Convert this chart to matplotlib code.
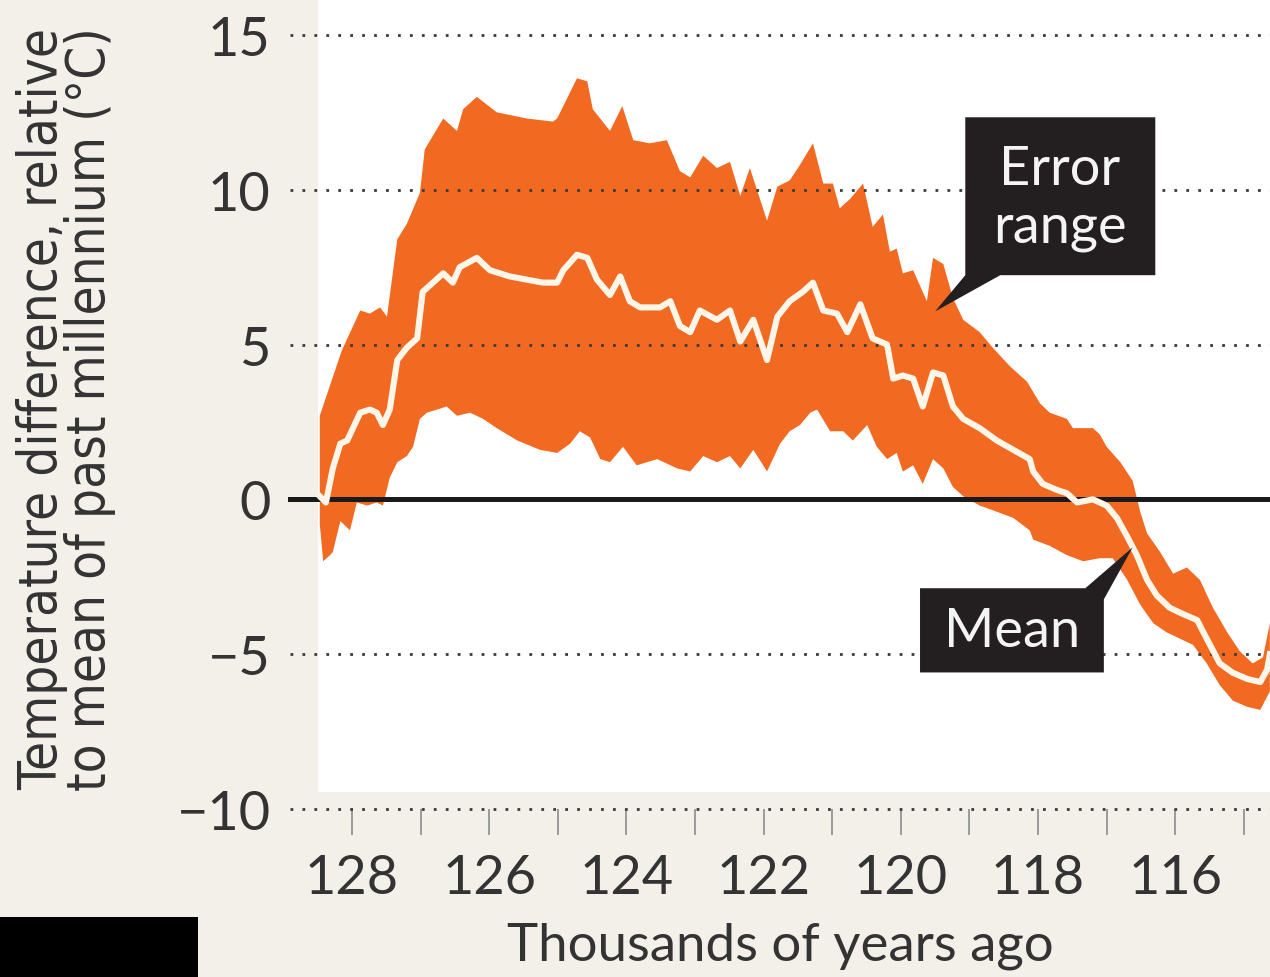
import numpy as np
import matplotlib
matplotlib.use("Agg")
import matplotlib.pyplot as plt
from matplotlib import font_manager
from matplotlib.patches import Rectangle, Polygon

# %% data (thousands of years ago, temperature anomaly in C)
upper_age = [128.47, 128.15, 127.88, 127.74, 127.59, 127.49, 127.34, 127.20, 127.01, 126.94,
             126.67, 126.47, 126.38, 126.18, 125.89, 125.45, 125.07, 125.01, 124.72, 124.57,
             124.49, 124.24, 124.06, 123.90, 123.66, 123.41, 123.22, 123.07, 122.88, 122.68,
             122.49, 122.34, 122.20, 121.95, 121.80, 121.62, 121.47, 121.28, 121.13, 120.99,
             120.89, 120.74, 120.55, 120.41, 120.26, 120.16, 120.06, 119.97, 119.82, 119.62,
             119.53, 119.38, 119.24, 119.09, 118.85, 118.66, 118.41, 118.16, 117.97, 117.83,
             117.58, 117.49, 117.20, 117.10, 117.00, 116.80, 116.62, 116.51, 116.41, 116.22,
             116.03, 115.83, 115.64, 115.45, 115.24, 115.06, 114.87, 114.72, 114.62]
upper_val = [2.7, 4.8, 6.1, 6.0, 6.2, 5.9, 8.4, 8.9, 9.9, 11.3,
             12.3, 11.9, 12.6, 13.0, 12.5, 12.3, 12.2, 12.3, 13.6, 13.5,
             12.6, 11.9, 12.7, 11.6, 11.5, 11.6, 10.6, 10.4, 11.1, 10.7,
             10.9, 9.8, 10.7, 9.0, 10.1, 10.3, 10.8, 11.5, 10.2, 10.2,
             9.4, 9.7, 10.2, 8.8, 9.2, 8.0, 8.1, 7.3, 7.4, 6.4,
             7.8, 7.6, 6.5, 5.8, 5.4, 4.9, 4.3, 3.8, 3.1, 2.8,
             2.6, 2.3, 2.3, 2.1, 1.7, 1.2, 0.6, -0.4, -1.1, -1.7,
             -2.4, -2.2, -2.6, -3.5, -4.3, -4.9, -5.3, -5.1, -4.0]

lower_age = [128.47, 128.42, 128.32, 128.28, 128.17, 128.03, 127.93, 127.78, 127.64, 127.55,
             127.45, 127.34, 127.20, 127.11, 127.01, 126.91, 126.76, 126.62, 126.47, 126.28,
             126.09, 125.89, 125.59, 125.26, 125.01, 124.82, 124.68, 124.53, 124.38, 124.24,
             124.05, 123.85, 123.55, 123.26, 123.07, 122.88, 122.68, 122.49, 122.34, 122.15,
             121.95, 121.76, 121.62, 121.47, 121.32, 121.22, 121.03, 120.84, 120.70, 120.49,
             120.35, 120.20, 120.06, 119.97, 119.82, 119.68, 119.53, 119.38, 119.24, 119.09,
             118.85, 118.60, 118.36, 118.12, 118.07, 117.83, 117.58, 117.34, 117.10, 116.91,
             116.70, 116.51, 116.32, 116.12, 115.93, 115.74, 115.54, 115.35, 115.16, 114.95,
             114.76, 114.62]
lower_val = [-0.8, -2.0, -1.8, -1.7, -0.7, -1.0, -0.1, -0.2, -0.1, -0.2,
             0.7, 1.2, 1.4, 1.7, 2.6, 2.8, 2.9, 3.0, 2.7, 2.8,
             2.6, 2.3, 1.9, 1.6, 1.5, 1.8, 2.2, 2.0, 1.3, 1.2,
             1.7, 1.1, 1.3, 1.0, 0.9, 1.4, 1.2, 1.4, 1.0, 1.6,
             0.9, 1.8, 2.2, 2.4, 2.8, 2.9, 2.2, 2.2, 1.9, 2.4,
             1.7, 1.3, 1.5, 0.9, 1.1, 0.5, 1.3, 1.0, 0.4, 0.1,
             -0.2, -0.4, -0.6, -1.0, -1.3, -1.5, -1.8, -2.0, -1.9, -1.9,
             -2.6, -3.4, -4.0, -4.3, -4.5, -4.7, -5.3, -6.0, -6.5, -6.7,
             -6.8, -6.2]

mean_age = [128.47, 128.38, 128.28, 128.17, 128.07, 127.88, 127.74, 127.64, 127.55, 127.45,
            127.34, 127.20, 127.05, 126.97, 126.82, 126.67, 126.53, 126.43, 126.18, 125.99,
            125.70, 125.22, 125.01, 124.92, 124.72, 124.57, 124.43, 124.24, 124.09, 123.95,
            123.80, 123.51, 123.36, 123.22, 123.07, 122.93, 122.68, 122.49, 122.34, 122.15,
            121.95, 121.80, 121.62, 121.43, 121.28, 121.13, 120.93, 120.78, 120.59, 120.41,
            120.20, 120.11, 119.97, 119.82, 119.68, 119.53, 119.38, 119.24, 119.09, 118.85,
            118.60, 118.36, 118.12, 118.07, 117.93, 117.72, 117.58, 117.43, 117.20, 117.00,
            116.85, 116.70, 116.56, 116.41, 116.27, 116.08, 115.89, 115.68, 115.54, 115.35,
            115.16, 114.95, 114.76, 114.66, 114.62]
mean_val = [0.1, -0.1, 1.0, 1.8, 1.9, 2.8, 2.9, 2.8, 2.4, 2.9,
            4.5, 4.9, 5.2, 6.7, 7.0, 7.3, 7.0, 7.5, 7.8, 7.4,
            7.2, 7.0, 7.0, 7.4, 7.9, 7.8, 7.1, 6.6, 7.2, 6.4,
            6.2, 6.2, 6.4, 5.6, 5.4, 6.1, 5.8, 6.1, 5.1, 5.8,
            4.5, 5.9, 6.4, 6.7, 7.0, 6.1, 6.0, 5.4, 6.3, 5.2,
            5.0, 3.9, 4.0, 3.9, 3.0, 4.1, 4.0, 3.0, 2.6, 2.3,
            1.9, 1.6, 1.3, 0.9, 0.5, 0.3, 0.2, -0.1, 0.0, -0.2,
            -0.6, -1.2, -1.8, -2.6, -3.1, -3.5, -3.7, -3.9, -4.5, -5.3,
            -5.6, -5.8, -5.9, -5.5, -5.0]

y_ticks = [15, 10, 5, 0, -5, -10]
y_ticklabels = ["15", "10", "5", "0", "\u22125", "\u221210"]
x_major = [128, 126, 124, 122, 120, 118, 116]
x_minor = [127, 125, 123, 121, 119, 117, 115]

# %% styling
bg = "#f2f0e9"
orange = "#f26a22"
dark = "#231f20"
txt = "#333333"

plt.rcParams["font.family"] = ["Lato", "DejaVu Sans"]

names = {f.name for f in font_manager.fontManager.ttflist}
if "Liberation Sans Narrow" in names:
    ylab_family, ylab_size, ylab_stretch = ["Liberation Sans Narrow", "DejaVu Sans"], 46, "normal"
else:
    ylab_family, ylab_size, ylab_stretch = ["DejaVu Sans"], 38, "condensed"

fig = plt.figure(figsize=(12.7, 9.78), dpi=100, facecolor=bg)
ax = fig.add_axes([290 / 1270, 1 - 810 / 978, 980 / 1270, 810 / 978])
ax.patch.set_visible(False)
for s in ax.spines.values():
    s.set_visible(False)

ax.set_xlim(128.904, 114.618)
ax.set_ylim(-10, 16.16)

# white plotting panel
ax.add_patch(Rectangle((128.5, -9.45), 114.618 - 128.5, 16.16 + 9.45,
                       facecolor="white", edgecolor="none", zorder=0))

# error band and mean
ax.fill(np.concatenate([upper_age, lower_age[::-1]]),
        np.concatenate([upper_val, lower_val[::-1]]),
        color=orange, lw=0, zorder=1)

for yv in y_ticks:
    if yv == 0:
        continue
    ax.axhline(yv, color="#3a3a3a", lw=2.0, ls=(0, (1, 3.3)), zorder=2, clip_on=False)
ax.axhline(0, color="#1a1a1a", lw=3.6, zorder=3, clip_on=False)

ax.plot(mean_age, mean_val, color="#fff6ea", lw=4.4, zorder=4, solid_joinstyle="round")

# ticks
ax.set_yticks(y_ticks)
ax.set_yticklabels(y_ticklabels)
ax.tick_params(axis="y", length=0, pad=14, labelsize=39, labelcolor=txt)
ax.set_xticks(x_major)
ax.set_xticks(x_minor, minor=True)
ax.tick_params(axis="x", which="both", direction="out", length=19, width=1.4,
               color="#9a9a9a", pad=13, labelsize=39, labelcolor=txt)
ax.set_xlabel("Thousands of years ago", fontsize=38, color=txt, labelpad=14)

fig.text(66 / 1270, 1 - 409 / 978,
         "Temperature difference, relative\nto mean of past millennium (\u00b0C)",
         rotation=90, ha="center", va="center", fontsize=ylab_size, family=ylab_family,
         fontstretch=ylab_stretch, color=txt, linespacing=0.9)

# annotation boxes
ax.add_patch(Polygon([(119.06, 7.24), (119.06, 12.34), (116.29, 12.34), (116.29, 7.24),
                      (118.55, 7.24), (119.50, 6.07)],
                     closed=True, facecolor=dark, edgecolor="none", zorder=5))
ax.text(117.68, 9.75, "Error\nrange", ha="center", va="center", fontsize=39,
        color="#f4f4f4", linespacing=1.2, zorder=6)

ax.add_patch(Polygon([(119.72, -5.59), (119.72, -2.87), (117.31, -2.87), (116.62, -1.55),
                      (117.04, -3.23), (117.04, -5.59)],
                     closed=True, facecolor=dark, edgecolor="none", zorder=5))
ax.text(118.38, -4.23, "Mean", ha="center", va="center", fontsize=39,
        color="#f4f4f4", zorder=6)

# black block bottom-left
fig.patches.append(Rectangle((0, 0), 198 / 1270, 60 / 978, transform=fig.transFigure,
                             facecolor="black", edgecolor="none"))

fig.savefig("out.png", dpi=100, facecolor=bg)
